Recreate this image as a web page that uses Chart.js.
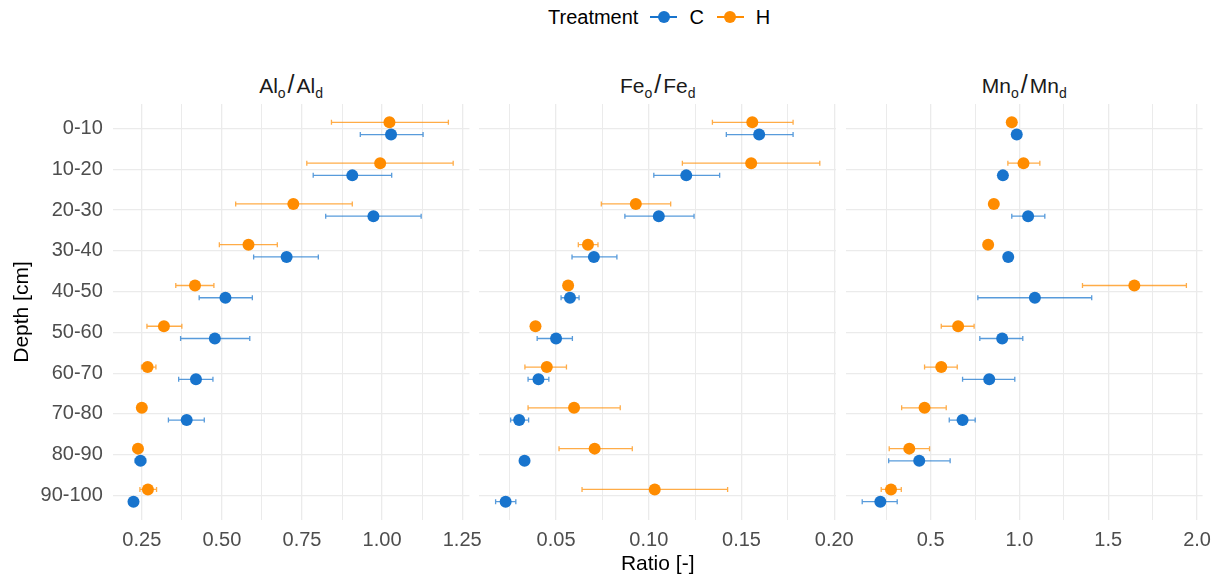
<!DOCTYPE html>
<html>
<head>
<meta charset="utf-8">
<script src="https://cdn.jsdelivr.net/npm/chart.js@4.4.1/dist/chart.umd.min.js"></script>
<style>
  body { margin: 0; background: #fff; width: 1220px; height: 579px; overflow: hidden; position: relative;
         font-family: 'Liberation Sans', Arial, sans-serif; }
  canvas { position: absolute; top: 0; }
  .strip { position: absolute; top: 72px; text-align: center; font-size: 21px; color: #1a1a1a; line-height: 24px; }
  .strip sub { font-size: 14px; vertical-align: baseline; position: relative; top: 5px; }
  .strip .sl { font-size: 25px; margin: 0 2px; }
  #legend { position: absolute; left: 548px; top: 4px; height: 26px; display: flex; align-items: center;
            font-size: 20px; color: #000; }
  .key { position: relative; width: 27px; height: 14px; margin: 0 12px; }
  .key:before { content: ''; position: absolute; left: 0; right: 0; top: 6px; height: 2px; background: var(--c); }
  .key:after { content: ''; position: absolute; left: 7.5px; top: 1px; width: 12px; height: 12px; border-radius: 50%; background: var(--c); }
</style>
</head>
<body>
<div id="legend">
  <span>Treatment</span>
  <span class="key" style="--c:#1874cd"></span><span>C</span>
  <span class="key" style="--c:#ff8c00; margin-left:13px"></span><span>H</span>
</div>
<div class="strip" id="s1">Al<sub>o</sub><span class="sl">/</span>Al<sub>d</sub></div>
<div class="strip" id="s2">Fe<sub>o</sub><span class="sl">/</span>Fe<sub>d</sub></div>
<div class="strip" id="s3">Mn<sub>o</sub><span class="sl">/</span>Mn<sub>d</sub></div>
<canvas id="c1" width="500" height="579" style="left:0px"></canvas>
<canvas id="c2" width="400" height="579" style="left:470px"></canvas>
<canvas id="c3" width="384" height="579" style="left:836px"></canvas>
<script>
// depth classes, top to bottom
var depths = ['0-10', '10-20', '20-30', '30-40', '40-50', '50-60', '60-70', '70-80', '80-90', '90-100'];

// Al_o / Al_d
var alC   = [1.028, 0.907, 0.973, 0.702, 0.511, 0.478, 0.419, 0.390, 0.246, 0.224];
var alCLo = [0.932, 0.785, 0.824, 0.599, 0.429, 0.371, 0.365, 0.333, 0.229, 0.210];
var alCHi = [1.128, 1.030, 1.122, 0.801, 0.595, 0.587, 0.472, 0.445, 0.262, 0.238];
var alH   = [1.023, 0.994, 0.723, 0.583, 0.416, 0.319, 0.268, 0.250, 0.238, 0.269];
var alHLo = [0.842, 0.765, 0.543, 0.492, 0.356, 0.266, 0.249, 0.244, 0.232, 0.244];
var alHHi = [1.207, 1.222, 0.907, 0.673, 0.475, 0.375, 0.294, 0.256, 0.243, 0.296];

// Fe_o / Fe_d
var feC   = [0.1595, 0.1202, 0.1054, 0.0704, 0.0575, 0.0500, 0.0405, 0.0301, 0.0330, 0.0228];
var feCLo = [0.1418, 0.1027, 0.0871, 0.0586, 0.0527, 0.0398, 0.0349, 0.0255, 0.0315, 0.0174];
var feCHi = [0.1778, 0.1382, 0.1244, 0.0828, 0.0624, 0.0588, 0.0461, 0.0352, 0.0345, 0.0283];
var feH   = [0.1558, 0.1552, 0.0930, 0.0672, 0.0565, 0.0389, 0.0450, 0.0597, 0.0708, 0.1032];
var feHLo = [0.1343, 0.1181, 0.0744, 0.0620, 0.0555, 0.0380, 0.0332, 0.0349, 0.0516, 0.0640];
var feHHi = [0.1778, 0.1922, 0.1118, 0.0726, 0.0575, 0.0398, 0.0556, 0.0846, 0.0911, 0.1425];

// Mn_o / Mn_d
var mnC   = [0.985, 0.907, 1.049, 0.937, 1.087, 0.903, 0.830, 0.680, 0.436, 0.217];
var mnCLo = [0.965, 0.890, 0.957, 0.920, 0.766, 0.777, 0.680, 0.605, 0.264, 0.115];
var mnCHi = [1.005, 0.925, 1.143, 0.955, 1.407, 1.019, 0.974, 0.751, 0.610, 0.312];
var mnH   = [0.957, 1.023, 0.856, 0.824, 1.647, 0.655, 0.560, 0.466, 0.380, 0.277];
var mnHLo = [0.940, 0.935, 0.840, 0.810, 1.355, 0.560, 0.466, 0.337, 0.267, 0.222];
var mnHHi = [0.975, 1.115, 0.872, 0.838, 1.940, 0.745, 0.650, 0.588, 0.494, 0.335];

Chart.defaults.font.family = "'Liberation Sans', Arial, sans-serif";

var blue = '#1874cd', orange = '#ff8c00';
var dodge = 0.15;
var panelW = 356.6;

// horizontal error bars, drawn under the points
var errorBars = {
  id: 'errorBars',
  beforeDatasetsDraw: function(chart) {
    var ctx = chart.ctx, x = chart.scales.x, y = chart.scales.y;
    chart.data.datasets.forEach(function(ds) {
      ctx.save();
      ctx.strokeStyle = ds.barColor;
      ctx.lineWidth = 1.3;
      ds.data.forEach(function(p) {
        var x1 = x.getPixelForValue(p.lo), x2 = x.getPixelForValue(p.hi), py = y.getPixelForValue(p.y);
        ctx.beginPath();
        ctx.moveTo(x1, py); ctx.lineTo(x2, py);
        ctx.moveTo(x1, py - 2.5); ctx.lineTo(x1, py + 2.5);
        ctx.moveTo(x2, py - 2.5); ctx.lineTo(x2, py + 2.5);
        ctx.stroke();
      });
      ctx.restore();
    });
  }
};

function points(vals, lo, hi, off) {
  return vals.map(function(v, i) { return { x: v, y: i + off, lo: lo[i], hi: hi[i] }; });
}

function makePanel(id, canvasLeft, canvasW, panelLeft, series, minor, major, dec, first, middle) {
  var all = [].concat(series[1], series[2], series[4], series[5]);
  var lo = Math.min.apply(null, all), hi = Math.max.apply(null, all);
  var pad = (hi - lo) * 0.05;
  var isMajor = function(v) { return Math.abs(v / major - Math.round(v / major)) < 1e-6; };

  var strip = document.getElementById('s' + id.slice(1));
  strip.style.left = panelLeft + 'px';
  strip.style.width = panelW + 'px';

  new Chart(document.getElementById(id), {
    type: 'scatter',
    data: {
      datasets: [
        { label: 'C', data: points(series[0], series[1], series[2], dodge),
          backgroundColor: blue, borderColor: blue, pointRadius: 6, borderWidth: 0,
          barColor: 'rgba(24,116,205,0.72)' },
        { label: 'H', data: points(series[3], series[4], series[5], -dodge),
          backgroundColor: orange, borderColor: orange, pointRadius: 6, borderWidth: 0,
          barColor: 'rgba(255,140,0,0.72)' }
      ]
    },
    options: {
      responsive: false,
      animation: false,
      layout: { padding: { top: 104, bottom: 0, left: 0, right: canvasLeft + canvasW - panelLeft - panelW } },
      plugins: { legend: { display: false }, tooltip: { enabled: false } },
      scales: {
        x: {
          type: 'linear',
          min: lo - pad,
          max: hi + pad,
          border: { display: false },
          grid: {
            color: '#ebebeb',
            lineWidth: function(c) { return isMajor(c.tick.value) ? 1.3 : 1; },
            drawTicks: false,
            tickLength: 0
          },
          ticks: {
            stepSize: minor,
            includeBounds: false,
            autoSkip: false,
            maxRotation: 0,
            padding: 8,
            color: '#4d4d4d',
            font: { size: 20 },
            callback: function(v) { return isMajor(v) ? v.toFixed(dec) : ''; }
          },
          title: { display: middle, text: 'Ratio [-]', color: '#000', font: { size: 21 }, padding: { top: 0, bottom: 2 } },
          afterFit: function(s) { s.height = 59; }
        },
        y: {
          type: 'linear',
          reverse: true,
          min: -0.6,
          max: 9.6,
          border: { display: false },
          grid: { color: '#ebebeb', lineWidth: 1.3, drawTicks: false, tickLength: 0 },
          ticks: {
            display: first,
            stepSize: 1,
            includeBounds: false,
            padding: 10,
            color: '#4d4d4d',
            font: { size: 20 },
            callback: function(v) { return depths[Math.round(v)]; }
          },
          title: { display: first, text: 'Depth [cm]', color: '#000', font: { size: 21 }, padding: { top: 10, bottom: 0 } },
          afterFit: function(s) { s.width = panelLeft - canvasLeft; }
        }
      }
    },
    plugins: [errorBars]
  });
}

makePanel('c1', 0, 500, 112.8, [alC, alCLo, alCHi, alH, alHLo, alHHi], 0.125, 0.25, 2, true, false);
makePanel('c2', 470, 400, 479.4, [feC, feCLo, feCHi, feH, feHLo, feHHi], 0.025, 0.05, 2, false, true);
makePanel('c3', 836, 384, 846, [mnC, mnCLo, mnCHi, mnH, mnHLo, mnHHi], 0.25, 0.5, 1, false, false);
</script>
</body>
</html>
